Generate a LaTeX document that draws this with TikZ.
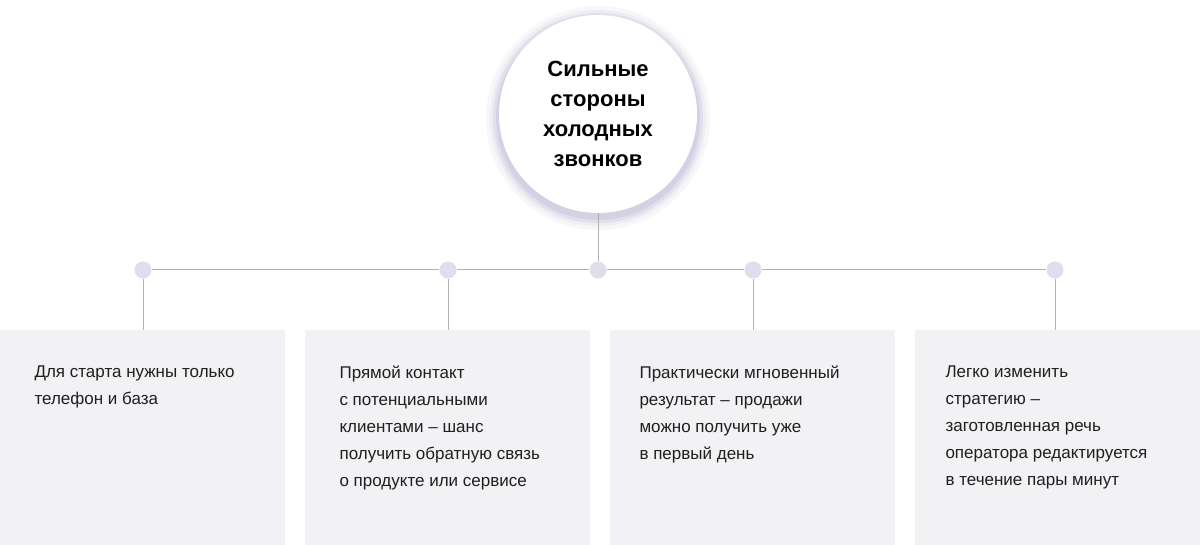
\documentclass[tikz,border=0pt]{standalone}
\usepackage{fontspec}
\setmainfont{Liberation Sans}
\begin{document}
\begin{tikzpicture}[x=1pt,y=-1pt,
  conn/.style={draw=black!30,line width=1pt},
  dotn/.style={circle,fill=black!8!blue!4!white,fill=dotc,minimum size=17pt,inner sep=0},
  card/.style={fill=cardc,minimum width=285pt,minimum height=215pt,anchor=north west,inner sep=0},
  txt/.style={anchor=north west,align=left,font=\fontsize{17pt}{27pt}\selectfont,text=black!88},
]
\definecolor{dotc}{HTML}{DEDFEA}
\definecolor{cardc}{HTML}{F2F2F5}
\useasboundingbox (0,0) rectangle (1200,545);
\fill[white] (0,0) rectangle (1200,545);
\foreach \r/\o in {112/0.03,108/0.04,105/0.05,102/0.06}
  \fill[black!60!blue,opacity=\o] (598,118) circle (\r);
\node[circle,fill=white,minimum size=198pt,inner sep=0] (c) at (598,114) {};
\node[align=center,font=\bfseries\fontsize{22pt}{30pt}\selectfont] at (c) {Сильные\\стороны\\холодных\\звонков};
\coordinate (h1) at (143,270);
\coordinate (h5) at (1055,270);
\node[dotn] (d1) at (143,270) {};
\node[dotn] (d2) at (448,270) {};
\node[dotn] (d3) at (598,270) {};
\node[dotn] (d4) at (753,270) {};
\node[dotn] (d5) at (1055,270) {};
\begin{scope}[on background layer/.style={}]
\end{scope}
\node[card] (b1) at (0,330) {};
\node[card] (b2) at (305,330) {};
\node[card] (b3) at (610,330) {};
\node[card] (b4) at (915,330) {};
\draw[conn] (c.south) -- (d3.north);
\draw[conn] (d1.east) -- (d2.west) (d2.east) -- (d3.west) (d3.east) -- (d4.west) (d4.east) -- (d5.west);
\draw[conn] (d1.south) -- (d1.south |- b1.north);
\draw[conn] (d2.south) -- (d2.south |- b2.north);
\draw[conn] (d4.south) -- (d4.south |- b3.north);
\draw[conn] (d5.south) -- (d5.south |- b4.north);
\node[txt] at (31,362) {Для старта нужны только\\телефон и база};
\node[txt] at (336,362) {Прямой контакт\\с потенциальными\\клиентами – шанс\\получить обратную связь\\о продукте или сервисе};
\node[txt] at (636,362) {Практически мгновенный\\результат – продажи\\можно получить уже\\в первый день};
\node[txt] at (942,362) {Легко изменить\\стратегию –\\заготовленная речь\\оператора редактируется\\в течение пары минут};
\end{tikzpicture}
\end{document}
